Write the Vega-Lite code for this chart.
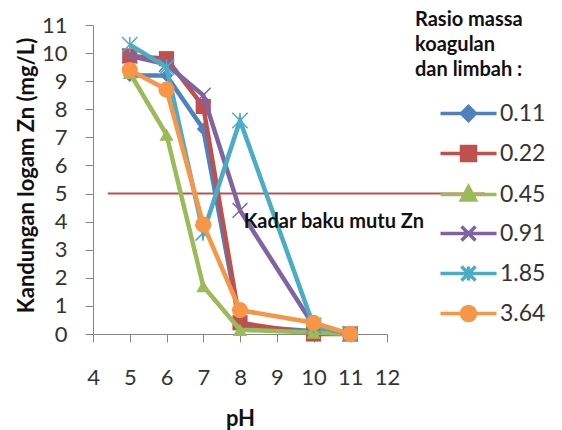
{
  "$schema": "https://vega.github.io/schema/vega-lite/v6.json",
  "width": 294,
  "height": 309,
  "autosize": "none",
  "padding": {"left": 93, "top": 25, "right": 175, "bottom": 96},
  "background": "white",
  "config": {
    "view": {"stroke": null},
    "font": "Lato",
    "axis": {"grid": false, "domainColor": "#868686", "tickColor": "#868686", "labelColor": "#333333", "labelFont": "Lato", "labelFontSize": 22, "titleFont": "Lato", "titleFontWeight": "bold", "titleColor": "#111111", "tickSize": 8, "labelOverlap": false, "labelFlush": false}
  },
  "datasets": {
    "zn": [
      {"pH": 5, "zn": 9.2, "r": "0.11"}, {"pH": 6, "zn": 9.2, "r": "0.11"}, {"pH": 7, "zn": 7.3, "r": "0.11"}, {"pH": 8, "zn": 0.3, "r": "0.11"}, {"pH": 10, "zn": 0.1, "r": "0.11"}, {"pH": 11, "zn": 0, "r": "0.11"},
      {"pH": 5, "zn": 9.9, "r": "0.22"}, {"pH": 6, "zn": 9.8, "r": "0.22"}, {"pH": 7, "zn": 8.1, "r": "0.22"}, {"pH": 8, "zn": 0.4, "r": "0.22"}, {"pH": 10, "zn": 0, "r": "0.22"}, {"pH": 11, "zn": 0, "r": "0.22"},
      {"pH": 5, "zn": 9.3, "r": "0.45"}, {"pH": 6, "zn": 7.1, "r": "0.45"}, {"pH": 7, "zn": 1.7, "r": "0.45"}, {"pH": 8, "zn": 0.15, "r": "0.45"}, {"pH": 10, "zn": 0.05, "r": "0.45"}, {"pH": 11, "zn": 0, "r": "0.45"},
      {"pH": 5, "zn": 9.9, "r": "0.91"}, {"pH": 6, "zn": 9.6, "r": "0.91"}, {"pH": 7, "zn": 8.5, "r": "0.91"}, {"pH": 8, "zn": 4.4, "r": "0.91"}, {"pH": 10, "zn": 0.3, "r": "0.91"}, {"pH": 11, "zn": 0, "r": "0.91"},
      {"pH": 5, "zn": 10.3, "r": "1.85"}, {"pH": 6, "zn": 9.5, "r": "1.85"}, {"pH": 7, "zn": 3.6, "r": "1.85"}, {"pH": 8, "zn": 7.6, "r": "1.85"}, {"pH": 10, "zn": 0.3, "r": "1.85"}, {"pH": 11, "zn": 0, "r": "1.85"},
      {"pH": 5, "zn": 9.4, "r": "3.64"}, {"pH": 6, "zn": 8.7, "r": "3.64"}, {"pH": 7, "zn": 3.9, "r": "3.64"}, {"pH": 8, "zn": 0.85, "r": "3.64"}, {"pH": 10, "zn": 0.4, "r": "3.64"}, {"pH": 11, "zn": 0, "r": "3.64"}
    ],
    "ref": [{"x": 4.4, "x2": 14.66, "y": 5}],
    "note": [{"x": 8.1, "y": 4.0, "label": "Kadar baku mutu Zn"}]
  },
  "encoding": {
    "x": {"field": "pH", "type": "quantitative", "scale": {"domain": [4, 12], "nice": false, "zero": false}, "axis": {"values": [4,5,6,7,8,9,10,11,12], "title": "pH", "titleFontSize": 22, "labelPadding": 25, "titleY": 91, "titleBaseline": "alphabetic"}},
    "y": {"field": "zn", "type": "quantitative", "scale": {"domain": [0, 11], "nice": false}, "axis": {"values": [0,1,2,3,4,5,6,7,8,9,10,11], "title": "Kandungan logam Zn (mg/L)", "titleFontSize": 22, "labelPadding": 18, "titleX": -67, "titleY": 150, "titleBaseline": "middle"}}
  },
  "layer": [
    {
      "data": {"name": "ref"},
      "mark": {"type": "rule", "color": "#C0504D", "strokeWidth": 2},
      "encoding": {
        "x": {"field": "x", "type": "quantitative"},
        "x2": {"field": "x2"},
        "y": {"field": "y", "type": "quantitative"}
      }
    },
    {
      "data": {"name": "zn"},
      "transform": [{"filter": "datum.r === '0.11'"}],
      "layer": [
        {"mark": {"type": "line", "strokeWidth": 4.5, "color": "#4F81BD"}, "encoding": {}},
        {"mark": {"type": "point", "shape": "M0,-1L1,0L0,1L-1,0Z", "size": 170, "filled": true, "color": "#4F81BD", "opacity": 1}, "encoding": {}}
      ]
    },
    {
      "data": {"name": "zn"},
      "transform": [{"filter": "datum.r === '0.22'"}],
      "layer": [
        {"mark": {"type": "line", "strokeWidth": 4.5, "color": "#C0504D"}, "encoding": {}},
        {"mark": {"type": "point", "shape": "square", "size": 230, "filled": true, "color": "#C0504D", "opacity": 1}, "encoding": {}}
      ]
    },
    {
      "data": {"name": "zn"},
      "transform": [{"filter": "datum.r === '0.45'"}],
      "layer": [
        {"mark": {"type": "line", "strokeWidth": 4.5, "color": "#9BBB59"}, "encoding": {}},
        {"mark": {"type": "point", "shape": "triangle-up", "size": 200, "filled": true, "color": "#9BBB59", "opacity": 1}, "encoding": {}}
      ]
    },
    {
      "data": {"name": "zn"},
      "transform": [{"filter": "datum.r === '0.91'"}],
      "layer": [
        {"mark": {"type": "line", "strokeWidth": 4.5, "color": "#8064A2"}, "encoding": {}},
        {"mark": {"type": "point", "shape": "M-1,-1L1,1M1,-1L-1,1", "size": 220, "filled": false, "color": "#8064A2", "strokeWidth": 1.5, "opacity": 1}, "encoding": {}}
      ]
    },
    {
      "data": {"name": "zn"},
      "transform": [{"filter": "datum.r === '1.85'"}],
      "layer": [
        {"mark": {"type": "line", "strokeWidth": 4.5, "color": "#4BACC6"}, "encoding": {}},
        {"mark": {"type": "point", "shape": "M-1,-1L1,1M1,-1L-1,1M0,-1L0,1", "size": 240, "filled": false, "color": "#4BACC6", "strokeWidth": 1.5, "opacity": 1}, "encoding": {}}
      ]
    },
    {
      "data": {"name": "zn"},
      "transform": [{"filter": "datum.r === '3.64'"}],
      "layer": [
        {"mark": {"type": "line", "strokeWidth": 4.5, "color": "#F79646"}, "encoding": {}},
        {"mark": {"type": "point", "shape": "circle", "size": 260, "filled": true, "color": "#F79646", "opacity": 1}, "encoding": {}}
      ]
    },
    {
      "data": {"name": "zn"},
      "mark": {"type": "point", "opacity": 0, "size": 196, "filled": true},
      "encoding": {
        "fill": {"field": "r", "type": "nominal", "scale": {"domain": ["0.11","0.22","0.45","0.91","1.85","3.64"], "range": ["#4F81BD","#C0504D","#9BBB59","#8064A2","#4BACC6","#F79646"]}, "legend": {"title": ["Rasio massa", "koagulan", "dan limbah :"], "orient": "none", "legendX": 322, "legendY": -15, "titleFontSize": 20, "titleFontWeight": "bold", "titleLineHeight": 25, "titleColor": "#111111", "titlePadding": 22, "labelFontSize": 23, "labelColor": "#333333", "labelOffset": 20, "symbolOffset": 42, "symbolSize": 196, "symbolStrokeWidth": 3.5, "symbolOpacity": 1, "rowPadding": 11, "encode": {"symbols": {"update": {"fill": {"scale": "fill", "field": "value"}, "fillOpacity": {"value": 1}, "opacity": {"value": 1}}}}}},
        "stroke": {"field": "r", "type": "nominal", "scale": {"domain": ["0.11","0.22","0.45","0.91","1.85","3.64"], "range": ["#4F81BD","#C0504D","#9BBB59","#8064A2","#4BACC6","#F79646"]}},
        "shape": {"field": "r", "type": "nominal", "scale": {"domain": ["0.11","0.22","0.45","0.91","1.85","3.64"], "range": ["M-4,0H4M0,-1L1,0L0,1L-1,0Z", "M-4,0H4M-1,-1H1V1H-1Z", "M-4,0H4M0,-1.1L1,0.8H-1Z", "M-4,0H4M-1,-1L1,1M1,-1L-1,1", "M-4,0H4M-1,-1L1,1M1,-1L-1,1M0,-1L0,1", "M-4,0H4M-1,0A1,1 0 1,0 1,0A1,1 0 1,0 -1,0Z"]}}
      }
    },
    {
      "data": {"name": "note"},
      "mark": {"type": "text", "align": "left", "baseline": "middle", "fontSize": 20, "fontWeight": "bold", "color": "#111111", "font": "Lato"},
      "encoding": {
        "x": {"field": "x", "type": "quantitative"},
        "y": {"field": "y", "type": "quantitative"},
        "text": {"field": "label"}
      }
    }
  ]
}
